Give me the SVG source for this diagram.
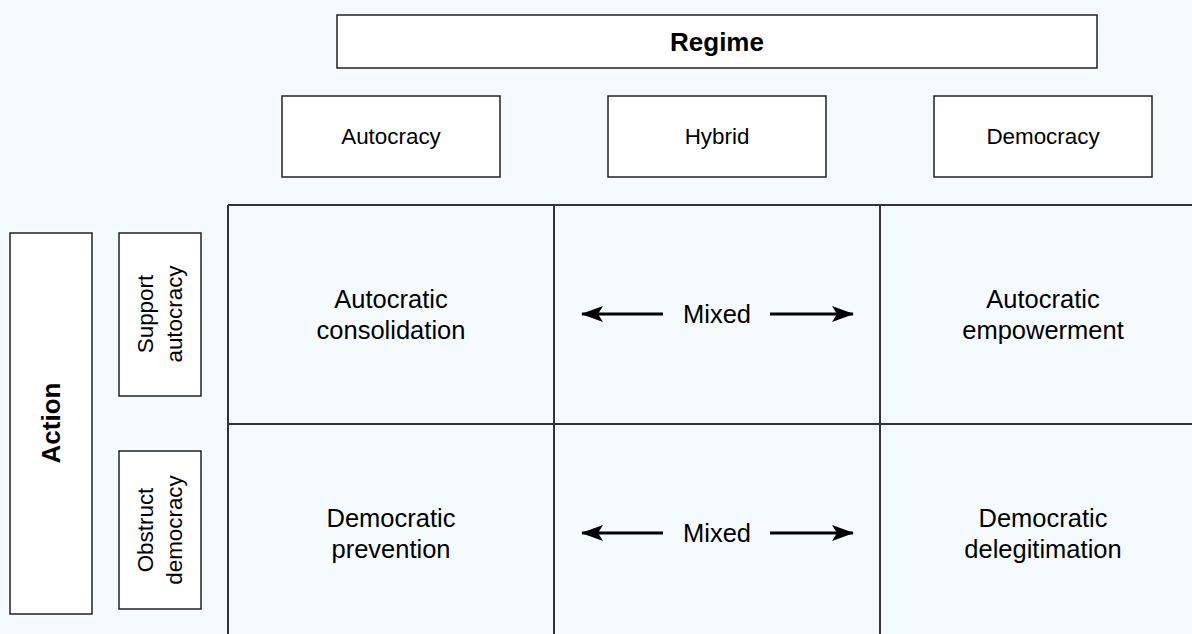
<svg xmlns="http://www.w3.org/2000/svg" width="1192" height="634" viewBox="0 0 1192 634">
<defs>
<style>
.box{fill:#ffffff;stroke:#222;stroke-width:1.5}
.grid{stroke:#333;stroke-width:2;fill:none}
.t{font-family:"Liberation Sans",Arial,sans-serif;fill:#000;text-anchor:middle}
.s22{font-size:22.4px}
.s25{font-size:25.5px}
.bold{font-weight:bold;font-size:26px}
.arr{stroke:#000;stroke-width:2.8;fill:none;marker-end:url(#ah)}
</style>
<marker id="ah" viewBox="0 0 22 16" refX="21" refY="8" markerWidth="22" markerHeight="16" markerUnits="userSpaceOnUse" orient="auto">
<path d="M0,0 L22,8 L0,16 L5,8 Z" fill="#000"/>
</marker>
</defs>
<rect width="1192" height="634" fill="#f5fbfc"/>
<g id="regime"><rect class="box" x="337" y="15" width="760" height="53"/><text class="t bold" x="717" y="51">Regime</text></g>
<g id="autocracy"><rect class="box" x="282" y="96" width="218" height="81"/><text class="t s22" x="391" y="144">Autocracy</text></g>
<g id="hybrid"><rect class="box" x="608" y="96" width="218" height="81"/><text class="t s22" x="717" y="144">Hybrid</text></g>
<g id="democracy"><rect class="box" x="934" y="96" width="218" height="81"/><text class="t s22" x="1043" y="144">Democracy</text></g>
<g id="action"><rect class="box" x="10" y="233" width="82" height="381"/><text class="t bold" transform="translate(60,423) rotate(-90)">Action</text></g>
<g id="support"><rect class="box" x="119" y="233" width="82" height="163"/><text class="t s22" transform="translate(153,314) rotate(-90)"><tspan x="0" y="0">Support</tspan><tspan x="0" y="29">autocracy</tspan></text></g>
<g id="obstruct"><rect class="box" x="119" y="451" width="82" height="158"/><text class="t s22" transform="translate(153,530) rotate(-90)"><tspan x="0" y="0">Obstruct</tspan><tspan x="0" y="29">democracy</tspan></text></g>
<g id="grid">
<path class="grid" d="M228,205 H1192 M228,205 V634 M554,205 V634 M880,205 V634 M228,424 H1192"/>
</g>
<g id="cell-ac"><text class="t s25" x="391" y="308">Autocratic</text><text class="t s25" x="391" y="339">consolidation</text></g>
<g id="cell-ae"><text class="t s25" x="1043" y="308">Autocratic</text><text class="t s25" x="1043" y="339">empowerment</text></g>
<g id="cell-dp"><text class="t s25" x="391" y="527">Democratic</text><text class="t s25" x="391" y="558">prevention</text></g>
<g id="cell-dd"><text class="t s25" x="1043" y="527">Democratic</text><text class="t s25" x="1043" y="558">delegitimation</text></g>
<g id="mixed1"><text class="t s25" x="717" y="323">Mixed</text></g>
<g id="mixed2"><text class="t s25" x="717" y="542">Mixed</text></g>
<g id="connectors">
<line class="arr" x1="663" y1="314" x2="582" y2="314"/>
<line class="arr" x1="770" y1="314" x2="853" y2="314"/>
<line class="arr" x1="663" y1="533" x2="582" y2="533"/>
<line class="arr" x1="770" y1="533" x2="853" y2="533"/>
</g>
</svg>
